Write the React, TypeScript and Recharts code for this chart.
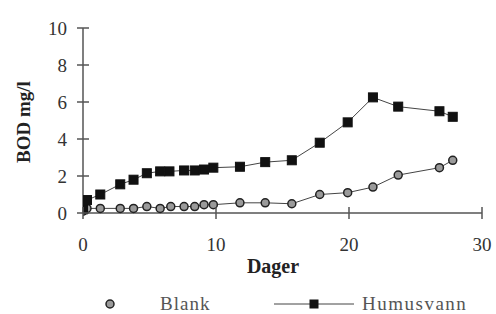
import { LineChart, Line, XAxis, YAxis } from 'recharts';

const blankDays = [0, 0.3, 1.3, 2.8, 3.8, 4.8, 5.8, 6.6, 7.6, 8.4, 9.1, 9.8, 11.8, 13.7, 15.7, 17.8, 19.9, 21.8, 23.7, 26.8, 27.8];
const blankValues = [0.1, 0.25, 0.25, 0.25, 0.25, 0.35, 0.25, 0.35, 0.35, 0.35, 0.45, 0.45, 0.55, 0.55, 0.5, 1.0, 1.1, 1.4, 2.05, 2.45, 2.85];

const humusDays = [0, 0.3, 1.3, 2.8, 3.8, 4.8, 5.8, 6.5, 7.6, 8.4, 9.1, 9.8, 11.8, 13.7, 15.7, 17.8, 19.9, 21.8, 23.7, 26.8, 27.8];
const humusValues = [0.2, 0.7, 1.0, 1.55, 1.8, 2.15, 2.25, 2.25, 2.3, 2.3, 2.35, 2.45, 2.5, 2.75, 2.85, 3.8, 4.9, 6.25, 5.75, 5.5, 5.2];

const xTicks = [0, 10, 20, 30];
const yTicks = [0, 2, 4, 6, 8, 10];

const blankData = blankDays.map((day, i) => ({ day, value: blankValues[i] }));
const humusData = humusDays.map((day, i) => ({ day, value: humusValues[i] }));

const FONT = '"Liberation Serif", "Times New Roman", serif';
const AXIS = '#555';

function YTick({ x, y, payload }: any) {
  const ax = x + 16;
  return (
    <g>
      <line x1={ax - 6} x2={ax + 6} y1={y} y2={y} stroke={AXIS} strokeWidth={1.5} />
      <text x={x} y={y + 7} textAnchor="end" fontFamily={FONT} fontSize={19} fill="#333">
        {payload.value}
      </text>
    </g>
  );
}

function XTick({ x, y, payload }: any) {
  const ay = y - 16;
  return (
    <g>
      <line x1={x} x2={x} y1={ay - 6} y2={ay + 6} stroke={AXIS} strokeWidth={1.5} />
      <text x={x} y={y + 22} textAnchor="middle" fontFamily={FONT} fontSize={19} fill="#333">
        {payload.value}
      </text>
    </g>
  );
}

function YLabel() {
  return (
    <text transform="translate(30,122) rotate(-90)" textAnchor="middle" fontFamily={FONT} fontSize={19} fontWeight="bold" fill="#222">
      BOD mg/l
    </text>
  );
}

function XLabel() {
  return (
    <text x={273} y={273} textAnchor="middle" fontFamily={FONT} fontSize={20} fontWeight="bold" fill="#222">
      Dager
    </text>
  );
}

function SquareDot({ cx, cy, index }: any) {
  return <rect key={`sq-${index}`} x={cx - 4.5} y={cy - 4.5} width={9} height={9} fill="#111" stroke="#111" />;
}

export default function App() {
  return (
    <div style={{ position: 'absolute', left: 0, top: 0, width: 496, height: 314, background: '#fff', fontFamily: FONT }}>
      <LineChart width={496} height={314} margin={{ top: 28, right: 14, left: 0, bottom: 61 }}>
        <XAxis
          type="number"
          dataKey="day"
          domain={[0, 30]}
          ticks={xTicks}
          allowDataOverflow
          height={40}
          tickSize={6}
          tickMargin={10}
          tickLine={false}
          axisLine={{ stroke: AXIS, strokeWidth: 1.5 }}
          tick={<XTick />}
          label={<XLabel />}
        />
        <YAxis
          type="number"
          domain={[0, 10]}
          ticks={yTicks}
          width={83}
          tickSize={6}
          tickMargin={10}
          tickLine={false}
          axisLine={{ stroke: AXIS, strokeWidth: 1.5 }}
          tick={<YTick />}
          label={<YLabel />}
        />
        <Line
          data={blankData}
          dataKey="value"
          type="linear"
          stroke="#444"
          strokeWidth={1}
          dot={{ r: 4, fill: '#9a9a9a', stroke: '#222', strokeWidth: 1.5 }}
          isAnimationActive={false}
        />
        <Line
          data={humusData}
          dataKey="value"
          type="linear"
          stroke="#444"
          strokeWidth={1}
          dot={<SquareDot />}
          isAnimationActive={false}
        />
      </LineChart>
      <div style={{ position: 'absolute', left: 0, top: 293, width: 496, height: 22, fontSize: 19, color: '#555' }}>
        <svg width={12} height={12} style={{ position: 'absolute', left: 104, top: 5 }}>
          <circle cx={6} cy={6} r={4} fill="#9a9a9a" stroke="#222" strokeWidth={1.5} />
        </svg>
        <span style={{ position: 'absolute', left: 160, top: 0, letterSpacing: 1 }}>Blank</span>
        <svg width={80} height={12} style={{ position: 'absolute', left: 274, top: 5 }}>
          <line x1={0} x2={80} y1={6} y2={6} stroke="#444" strokeWidth={1} />
          <rect x={35.5} y={1.5} width={9} height={9} fill="#111" />
        </svg>
        <span style={{ position: 'absolute', left: 362, top: 0, letterSpacing: 1.5 }}>Humusvann</span>
      </div>
    </div>
  );
}
